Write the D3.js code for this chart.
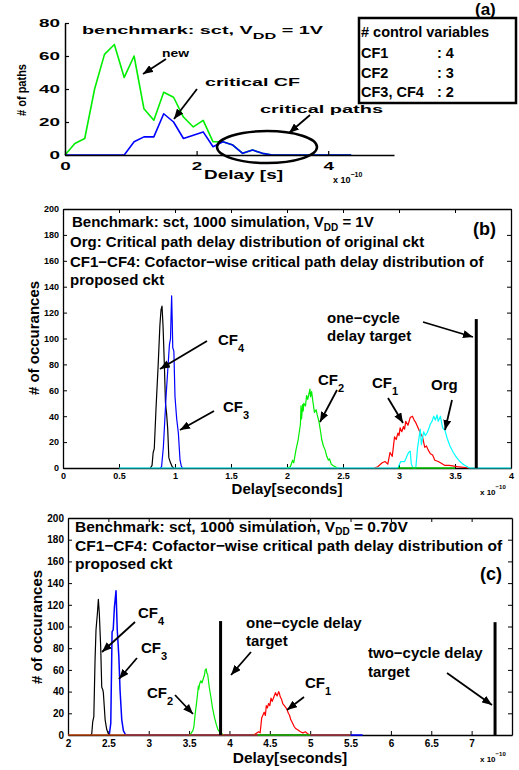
<!DOCTYPE html>
<html>
<head>
<meta charset="utf-8">
<script src="https://cdn.jsdelivr.net/npm/d3@7"></script>
<style>
  body { margin: 0; background: #fff; }
  svg { display: block; }
  text { font-family: 'Liberation Sans', Arial, Helvetica, sans-serif; font-weight: bold; }
</style>
</head>
<body>
<div id="chart"></div>
<script>
// ---- panel (a) data: path counts per delay bin (x 1e-10 s)
var aDelay = [0, 0.15, 0.3, 0.45, 0.6, 0.75, 0.9, 1.05, 1.2, 1.35, 1.5, 1.65, 1.8, 1.95, 2.1,
  2.25, 2.4, 2.55, 2.7, 2.85, 3.0, 3.15, 3.3, 3.45, 3.6, 3.75, 3.9, 4.05, 4.2, 4.35];
var aNew = [0, 7, 10, 40, 61, 67, 47, 60, 28, 21, 38, 35, 23, 17, 21,
  8, 8, 6, 1, 3, 1, 0, 0, 0, 0, 0, 0, 0, 0, 0];
var aCritical = [0, 0, 0, 0, 0, 0, 0, 8, 11, 11, 25, 20, 10, 12, 14,
  5, 8, 6, 1, 3, 1, 0, 0, 0, 0, 0, 0, 0, 0, 0];
var aYTicks = [0, 20, 40, 60, 80];
var aXTicks = [0, 2, 4];
var aControl = [["# control variables", ""], ["CF1", ": 4"], ["CF2", ": 3"], ["CF3, CF4", ": 2"]];

// ---- panel (b) data: [delay, occurrences], VDD = 1V
var bCF4 = [[0.78, 0], [0.795, 2], [0.805, 12], [0.815, 15], [0.83, 45], [0.85, 80], [0.865, 110],
  [0.875, 122], [0.884, 125], [0.893, 110], [0.905, 80], [0.915, 50], [0.925, 42], [0.935, 30],
  [0.945, 8], [0.96, 4], [0.975, 1], [0.99, 0]];
var bCF3 = [[0.87, 0], [0.88, 1], [0.896, 16], [0.92, 55], [0.95, 95], [0.96, 100], [0.965, 118],
  [0.97, 133], [0.975, 115], [0.98, 93], [0.99, 90], [1.0, 55], [1.015, 38], [1.03, 27],
  [1.045, 6], [1.055, 2], [1.065, 0]];
var bCF2 = [[2.0, 0], [2.03, 1], [2.05, 6], [2.06, 4], [2.08, 14], [2.1, 22], [2.12, 34], [2.125, 48],
  [2.13, 38], [2.14, 49], [2.145, 44], [2.15, 50], [2.165, 48], [2.175, 56], [2.185, 53],
  [2.195, 57], [2.205, 61], [2.21, 55], [2.22, 59], [2.23, 52], [2.245, 43], [2.26, 45],
  [2.27, 41], [2.285, 36], [2.3, 28], [2.31, 22], [2.325, 17], [2.34, 14], [2.355, 9],
  [2.37, 6], [2.38, 7], [2.395, 3], [2.41, 2], [2.43, 1], [2.45, 0]];
var bCF2Tail = [[2.99, 0], [3.5, 0]];
var bCF1 = [[2.78, 0], [2.81, 1], [2.85, 4], [2.875, 5], [2.9, 3], [2.92, 12], [2.94, 9], [2.96, 24],
  [2.975, 22], [2.99, 27], [3.0, 25], [3.01, 31], [3.025, 28], [3.04, 32], [3.05, 30], [3.06, 36],
  [3.08, 33], [3.1, 39], [3.12, 40], [3.135, 37], [3.15, 35], [3.17, 31], [3.19, 27], [3.21, 24],
  [3.23, 16], [3.245, 17], [3.26, 14], [3.28, 11], [3.3, 10], [3.32, 6], [3.35, 5], [3.37, 4],
  [3.41, 2], [3.45, 2], [3.52, 1], [3.63, 0]];
var bOrg = [[0.5, 0], [2.99, 0], [3.015, 5], [3.05, 5], [3.085, 12], [3.1, 13], [3.11, 3], [3.125, 0],
  [3.15, 0], [3.165, 15], [3.185, 27], [3.19, 30], [3.2, 18], [3.22, 28], [3.235, 25], [3.25, 27],
  [3.265, 30], [3.28, 34], [3.295, 36], [3.31, 40], [3.325, 37], [3.34, 41], [3.35, 36], [3.37, 40],
  [3.38, 35], [3.39, 31], [3.41, 29], [3.43, 23], [3.455, 17], [3.485, 12], [3.515, 8],
  [3.545, 5], [3.57, 3], [3.59, 2], [3.63, 0], [4.0, 0]];
var bTarget = [[3.69, 115]];
var bXTicks = [0, 0.5, 1, 1.5, 2, 2.5, 3, 3.5, 4];
var yTicks200 = [0, 20, 40, 60, 80, 100, 120, 140, 160, 180, 200];

// ---- panel (c) data: VDD = 0.70V
var cCF4 = [[2.28, 0], [2.294, 1], [2.306, 12], [2.32, 17], [2.335, 69], [2.347, 97], [2.364, 112],
  [2.376, 125], [2.388, 112], [2.405, 81], [2.418, 44], [2.43, 42], [2.438, 39], [2.46, 14],
  [2.48, 5], [2.5, 1], [2.52, 0]];
var cCF3 = [[2.5, 0], [2.513, 1], [2.53, 11], [2.546, 95], [2.56, 97], [2.575, 118], [2.583, 124],
  [2.595, 133], [2.61, 97], [2.63, 72], [2.645, 41], [2.666, 14], [2.686, 4], [2.707, 1],
  [2.72, 0], [5.65, 0]];
var cCF2 = [[3.5, 0], [3.52, 1], [3.547, 4], [3.56, 8], [3.576, 20], [3.59, 28], [3.605, 38],
  [3.615, 45], [3.62, 42], [3.63, 47], [3.646, 50], [3.66, 48], [3.68, 53], [3.69, 55], [3.7, 60],
  [3.712, 61], [3.72, 57], [3.73, 56], [3.74, 50], [3.75, 44], [3.77, 35], [3.79, 25],
  [3.815, 16], [3.836, 10], [3.857, 5], [3.886, 2], [3.93, 0]];
var cCF1 = [[4.3, 0], [4.32, 1], [4.36, 3], [4.38, 2], [4.4, 16], [4.43, 21], [4.445, 18], [4.456, 27],
  [4.47, 25], [4.485, 29], [4.5, 27], [4.515, 34], [4.53, 31], [4.55, 35], [4.57, 39], [4.59, 36],
  [4.61, 40], [4.62, 38], [4.63, 35], [4.645, 33], [4.66, 29], [4.68, 27], [4.71, 24], [4.73, 20],
  [4.745, 18], [4.76, 14], [4.775, 12], [4.8, 8], [4.82, 6], [4.84, 5], [4.88, 3], [4.91, 2],
  [4.94, 3], [4.97, 1], [5.0, 0]];
var cBase = [[2, 0], [5.5, 0]];
var cCF2Tail = [[4.35, 0], [5.0, 0]];
var cTargets = [[3.89, 105], [7.29, 104]];
var cXTicks = [2, 2.5, 3, 3.5, 4, 4.5, 5, 5.5, 6, 6.5, 7];

var svg = d3.select("#chart").append("svg")
  .attr("width", 519).attr("height", 770);
svg.append("rect").attr("width", 519).attr("height", 770).attr("fill", "#fff");

svg.append("defs").append("marker")
  .attr("id", "head")
  .attr("markerUnits", "userSpaceOnUse")
  .attr("markerWidth", 10).attr("markerHeight", 8)
  .attr("refX", 10).attr("refY", 4)
  .attr("orient", "auto")
  .append("path").attr("d", "M0,0L10,4L0,8Z").attr("fill", "#000");

function arrow(x1, y1, x2, y2) {
  svg.append("line")
    .attr("x1", x1).attr("y1", y1).attr("x2", x2).attr("y2", y2)
    .attr("stroke", "#000").attr("stroke-width", 1.8)
    .attr("marker-end", "url(#head)");
}

// text with an optional subscript part: parts = [[str, isSub], ...]
function label(x, y, parts, size, subSize, shift) {
  var t = svg.append("text").attr("x", x).attr("y", y).attr("font-size", size);
  var down = false;
  var dy = size * (shift || 0.45);
  parts.forEach(function(p) {
    var s = t.append("tspan").text(p[0]);
    if (p[1] && !down) { s.attr("dy", dy).attr("font-size", subSize); down = true; }
    else if (!p[1] && down) { s.attr("dy", -dy); down = false; }
  });
  return t;
}

function drawLine(g, x, y, data, color, w) {
  var line = d3.line().x(function(d) { return x(d[0]); }).y(function(d) { return y(d[1]); });
  g.append("path").datum(data)
    .attr("d", line)
    .attr("fill", "none")
    .attr("stroke", color)
    .attr("stroke-width", w || 1.2)
    .attr("stroke-linejoin", "round");
}

// ================= panel (a)
var xa = d3.scaleLinear().domain([0, 5]).range([65, 394]);
var ya = d3.scaleLinear().domain([0, 80]).range([155, 23]);
var ga = svg.append("g");

var aPts = function(vals) {
  return aDelay.map(function(d, i) { return [d, vals[i]]; });
};
drawLine(ga, xa, ya, aPts(aNew), "#00ee00", 1.6);
drawLine(ga, xa, ya, aPts(aCritical), "#0000ff", 1.6);

var aLeft = ga.append("g").attr("transform", "translate(65,0)")
  .call(d3.axisLeft(ya).tickValues(aYTicks).tickFormat(d3.format("~g"))
    .tickSizeInner(-4).tickSizeOuter(0).tickPadding(5));
var aBottom = ga.append("g").attr("transform", "translate(0,155)")
  .call(d3.axisBottom(xa).tickValues(aXTicks).tickFormat(d3.format("~g"))
    .tickSizeInner(-4).tickSizeOuter(0).tickPadding(7));
[aLeft, aBottom].forEach(function(ax) {
  ax.select(".domain").attr("stroke-width", 1.5);
  ax.selectAll(".tick line").attr("stroke-width", 1.2);
  ax.selectAll(".tick text")
    .attr("font-size", 11).attr("fill", "#000")
    .attr("textLength", function(d) { return String(d).length * 10.5; })
    .attr("lengthAdjust", "spacingAndGlyphs");
});

svg.append("ellipse")
  .attr("cx", xa(3.07)).attr("cy", ya(4.8))
  .attr("rx", xa(0.76) - xa(0)).attr("ry", ya(0) - ya(9.7))
  .attr("fill", "none").attr("stroke", "#000").attr("stroke-width", 2.5);

label(82, 34, [["benchmark: sct, V", 0], ["DD", 1], [" = 1V", 0]], 11, 9)
  .attr("textLength", 241).attr("lengthAdjust", "spacingAndGlyphs");
svg.append("text").attr("x", 162).attr("y", 57).attr("font-size", 11).text("new")
  .attr("textLength", 27).attr("lengthAdjust", "spacingAndGlyphs");
svg.append("text").attr("x", 205).attr("y", 86).attr("font-size", 11).text("critical CF")
  .attr("textLength", 95).attr("lengthAdjust", "spacingAndGlyphs");
svg.append("text").attr("x", 260).attr("y", 113).attr("font-size", 11).text("critical paths")
  .attr("textLength", 123).attr("lengthAdjust", "spacingAndGlyphs");
arrow(166, 59, 143, 74);
arrow(197, 89, 174, 119);
arrow(310, 115, 289, 133);

svg.append("text").attr("x", 204).attr("y", 179).attr("font-size", 12).text("Delay [s]")
  .attr("textLength", 79).attr("lengthAdjust", "spacingAndGlyphs");
svg.append("text").attr("transform", "translate(26,90) rotate(-90)")
  .attr("text-anchor", "middle").attr("font-size", 13).text("# of paths")
  .attr("textLength", 52).attr("lengthAdjust", "spacingAndGlyphs");
var aExp = svg.append("text").attr("x", 333).attr("y", 183).attr("font-size", 9);
aExp.append("tspan").text("x 10");
aExp.append("tspan").attr("dy", -6).attr("font-size", 7).text("\u221210");

svg.append("rect").attr("x", 359).attr("y", 18).attr("width", 157).attr("height", 85)
  .attr("fill", "#fff").attr("stroke", "#000").attr("stroke-width", 2.5);
aControl.forEach(function(row, i) {
  var yy = [37, 58, 78, 97][i];
  svg.append("text").attr("x", 361).attr("y", yy).attr("font-size", 14.5).text(row[0]);
  if (row[1]) svg.append("text").attr("x", 437).attr("y", yy).attr("font-size", 14.5).text(row[1]);
});
svg.append("text").attr("x", 475).attr("y", 15).attr("font-size", 17).text("(a)");

// ================= boxed panels (b) and (c)
function boxPanel(x, y, xTicks, yLeft, yRight, yTop, yBottom, tickSize) {
  var g = svg.append("g");
  var fmt = d3.format("~g");
  var L = g.append("g").attr("transform", "translate(" + yLeft + ",0)")
    .call(d3.axisLeft(y).tickValues(yTicks200).tickSizeInner(-4).tickSizeOuter(0).tickPadding(4));
  var R = g.append("g").attr("transform", "translate(" + yRight + ",0)")
    .call(d3.axisRight(y).tickValues(yTicks200).tickSizeInner(-4).tickSizeOuter(0).tickFormat(""));
  var B = g.append("g").attr("transform", "translate(0," + yBottom + ")")
    .call(d3.axisBottom(x).tickValues(xTicks).tickFormat(fmt).tickSizeInner(-4).tickSizeOuter(0).tickPadding(5));
  var T = g.append("g").attr("transform", "translate(0," + yTop + ")")
    .call(d3.axisTop(x).tickValues(xTicks).tickSizeInner(-4).tickSizeOuter(0).tickFormat(""));
  [L, R, B, T].forEach(function(ax) {
    ax.select(".domain").attr("stroke-width", 1.3);
    ax.selectAll(".tick text").attr("font-size", tickSize).attr("fill", "#000");
  });
  return g;
}

// ================= panel (b)
var xb = d3.scaleLinear().domain([0, 4]).range([63, 511]);
var yb = d3.scaleLinear().domain([0, 200]).range([468, 209]);
var gb = boxPanel(xb, yb, bXTicks, 63, 511, 209, 468, 9);
drawLine(gb, xb, yb, bCF4, "#000000");
drawLine(gb, xb, yb, bCF3, "#0000ff");
drawLine(gb, xb, yb, bCF2, "#00ee00");
drawLine(gb, xb, yb, bCF1, "#ff0000");
drawLine(gb, xb, yb, bOrg, "#00ffff");
drawLine(gb, xb, yb, bCF2Tail, "#00cc00", 1.5);
bTarget.forEach(function(d) {
  gb.append("line").attr("x1", xb(d[0])).attr("x2", xb(d[0]))
    .attr("y1", yb(0)).attr("y2", yb(d[1]))
    .attr("stroke", "#000").attr("stroke-width", 3);
});

label(72, 227, [["Benchmark: sct, 1000 simulation, V", 0], ["DD", 1], [" = 1V", 0]], 15, 10, 0.26);
label(70, 247, [["Org: Critical path delay distribution of original ckt", 0]], 15, 11);
label(70, 267, [["CF1\u2212CF4: Cofactor\u2212wise critical path delay distribution of", 0]], 15, 11);
label(70, 285, [["proposed ckt", 0]], 15, 11);
svg.append("text").attr("x", 473).attr("y", 235).attr("font-size", 18).text("(b)");

label(327, 323, [["one\u2212cycle", 0]], 15, 11);
label(327, 341, [["delay target", 0]], 15, 11);
arrow(423, 322, 473, 337);
label(218, 345, [["CF", 0], ["4", 1]], 15, 11);
arrow(207, 341, 160, 369);
label(223, 412, [["CF", 0], ["3", 1]], 15, 11);
arrow(214, 411, 180, 430);
label(318, 385, [["CF", 0], ["2", 1]], 15, 11);
arrow(337, 390, 320, 422);
label(372, 388, [["CF", 0], ["1", 1]], 15, 11);
arrow(388, 398, 403, 423);
label(431, 390, [["Org", 0]], 15, 11);
arrow(452, 400, 445, 430);

svg.append("text").attr("x", 287).attr("y", 494).attr("text-anchor", "middle")
  .attr("font-size", 15).text("Delay[seconds]");
svg.append("text").attr("transform", "translate(39,338) rotate(-90)")
  .attr("text-anchor", "middle").attr("font-size", 15).text("# of occurances");
var bExp = svg.append("text").attr("x", 480).attr("y", 495).attr("font-size", 8);
bExp.append("tspan").text("x 10");
bExp.append("tspan").attr("dy", -6).attr("font-size", 6).text("\u221210");

// ================= panel (c)
var xc = d3.scaleLinear().domain([2, 7.5]).range([68, 512]);
var yc = d3.scaleLinear().domain([0, 200]).range([735, 518]);
var gc = boxPanel(xc, yc, cXTicks, 68, 512, 518, 735, 10);
drawLine(gc, xc, yc, cCF3, "#0000ff", 1.5);
drawLine(gc, xc, yc, cCF4, "#000000");
drawLine(gc, xc, yc, cCF2, "#00ee00");
drawLine(gc, xc, yc, cCF1, "#ff0000");
drawLine(gc, xc, yc, cBase, "#b5400a", 1.6);
drawLine(gc, xc, yc, cCF2Tail, "#00bb00", 1.6);
cTargets.forEach(function(d) {
  gc.append("line").attr("x1", xc(d[0])).attr("x2", xc(d[0]))
    .attr("y1", yc(0)).attr("y2", yc(d[1]))
    .attr("stroke", "#000").attr("stroke-width", 3);
});

label(75, 532, [["Benchmark: sct, 1000 simulation, V", 0], ["DD", 1], [" = 0.70V", 0]], 15.5, 10, 0.2);
label(75, 551, [["CF1\u2212CF4: Cofactor\u2212wise critical path delay distribution of", 0]], 15.5, 11);
label(75, 569, [["proposed ckt", 0]], 15.5, 11);
svg.append("text").attr("x", 480).attr("y", 580).attr("font-size", 18).text("(c)");

label(138, 618, [["CF", 0], ["4", 1]], 15, 11);
arrow(135, 622, 102, 652);
label(141, 653, [["CF", 0], ["3", 1]], 15, 11);
arrow(137, 658, 119, 679);
label(147, 698, [["CF", 0], ["2", 1]], 15, 11);
arrow(175, 695, 193, 714);
label(246, 628, [["one\u2212cycle delay", 0]], 15, 11);
label(246, 646, [["target", 0]], 15, 11);
arrow(251, 652, 231, 675);
label(305, 688, [["CF", 0], ["1", 1]], 15, 11);
arrow(304, 697, 287, 710);
label(368, 658, [["two\u2212cycle delay", 0]], 15, 11);
label(368, 677, [["target", 0]], 15, 11);
arrow(447, 673, 492, 705);

svg.append("text").attr("x", 290).attr("y", 763).attr("text-anchor", "middle")
  .attr("font-size", 15.5).text("Delay[seconds]");
svg.append("text").attr("transform", "translate(42,627) rotate(-90)")
  .attr("text-anchor", "middle").attr("font-size", 15).text("# of occurances");
var cExp = svg.append("text").attr("x", 480).attr("y", 762).attr("font-size", 8);
cExp.append("tspan").text("x 10");
cExp.append("tspan").attr("dy", -6).attr("font-size", 6).text("\u221210");
</script>
</body>
</html>
